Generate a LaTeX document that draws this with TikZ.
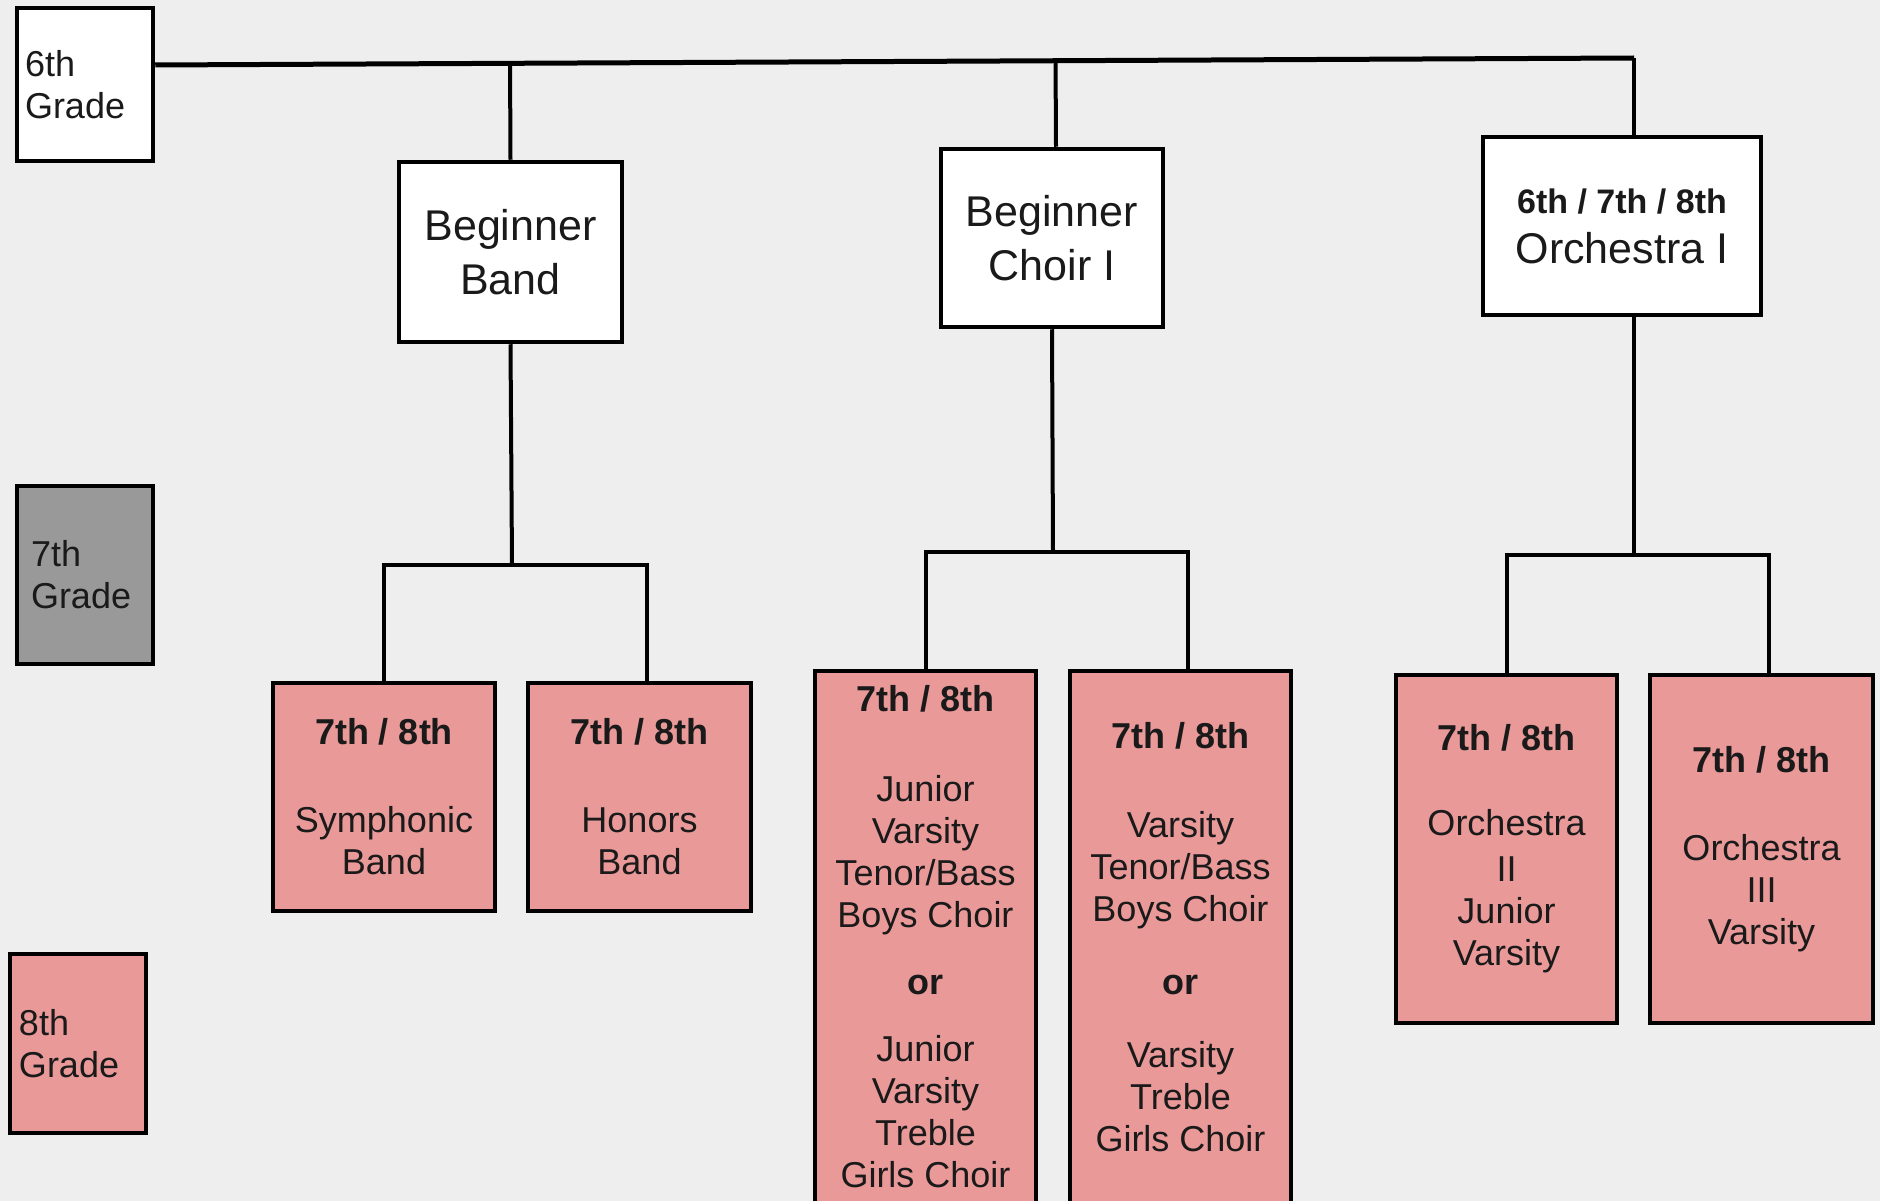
\documentclass[tikz,border=0pt]{standalone}
\usepackage{fontspec}
\setmainfont{Liberation Sans}
\usetikzlibrary{calc}
\definecolor{bgc}{HTML}{EEEEEE}
\definecolor{pinkc}{HTML}{EA9999}
\definecolor{grayc}{HTML}{999999}
\definecolor{txt}{HTML}{1A1A1A}
\begin{document}
\begin{tikzpicture}[x=1pt,y=-1pt,
  box/.style={draw=black, line width=4.5pt, inner sep=0pt, align=center, text=txt,
              font=\fontsize{36}{42}\selectfont},
  wbox/.style={box, fill=white, font=\fontsize{43}{54}\selectfont},
  pbox/.style={box, fill=pinkc},
  gbox/.style={box, align=left, inner ysep=0pt},
  conn/.style={line width=4pt, draw=black},
  topline/.style={line width=5pt, draw=black}]
\useasboundingbox (0,0) rectangle (1880,1201);
\fill[bgc] (0,0) rectangle (1880,1201);

% grade legend
\node[gbox, fill=white, minimum height=153pt, text width=120pt, inner xsep=8pt] (g6) at (85,84.5) {6th\\Grade};
\node[gbox, fill=grayc, minimum height=178pt, text width=108pt, inner xsep=14pt] (g7) at (85,575) {7th\\Grade};
\node[gbox, fill=pinkc, minimum height=179pt, text width=118pt, inner xsep=9pt] (g8) at (78,1043.5) {8th\\Grade};

% level 1
\node[wbox, minimum width=223pt, minimum height=180pt] (bb) at (510.5,252) {Beginner\\Band};
\node[wbox, minimum width=222pt, minimum height=178pt] (bc) at (1052,238) {Beginner\\Choir I};
\node[wbox, minimum width=278pt, minimum height=178pt] (o1) at (1622,226)
  {{\fontsize{34}{54}\selectfont\bfseries 6th / 7th / 8th}\\[-4pt]Orchestra I};

% level 2
\node[pbox, minimum width=222pt, minimum height=228pt] (sb) at (384,797)
  {\textbf{7th / 8th}\\[46pt]Symphonic\\Band};
\node[pbox, minimum width=223pt, minimum height=228pt] (hb) at (639.5,797)
  {\textbf{7th / 8th}\\[46pt]Honors\\Band};
\node[pbox, minimum width=221pt, minimum height=532pt] (jv) at (925.5,937)
  {\textbf{7th / 8th}\\[48pt]Junior\\Varsity\\Tenor/Bass\\Boys Choir\\[25pt]\textbf{or}\\[25pt]Junior\\Varsity\\Treble\\Girls Choir};
\node[pbox, minimum width=221pt, minimum height=532pt] (vv) at (1180.5,937)
  {\textbf{7th / 8th}\\[47pt]Varsity\\Tenor/Bass\\Boys Choir\\[31pt]\textbf{or}\\[31pt]Varsity\\Treble\\Girls Choir};
\node[pbox, minimum width=221pt, minimum height=348pt] (o2) at (1506.5,849)
  {\textbf{7th / 8th}\\[43pt]Orchestra\\[4pt]II\\Junior\\Varsity};
\node[pbox, minimum width=223pt, minimum height=348pt] (o3) at (1761.5,849)
  {\textbf{7th / 8th}\\[46pt]Orchestra\\III\\Varsity};

% attachment points on the boxes
\coordinate (bcn) at ($(bc.north)+(4,0)$);
\coordinate (hbn) at ($(hb.north)+(7,0)$);
\coordinate (vvn) at ($(vv.north)+(7,0)$);
\coordinate (o3n) at ($(o3.north)+(7,0)$);

% top connector
\coordinate (tl) at (g6.east |- 0,65);
\coordinate (tr) at (1634,58);
\draw[topline] (tl) -- (tr);
\draw[conn] (tr) -- (tr |- o1.north);
\draw[conn] ($(tl)!(bb.north)!(tr)$) -- (bb.north);
\draw[conn] ($(tl)!(bcn)!(tr)$) -- (bcn);

% band subtree
\coordinate (bj) at (512,565);
\draw[conn] (bb.south) -- (bj);
\draw[conn] (sb.north) |- (bj) -| (hbn);

% choir subtree
\coordinate (cj) at (1053,552);
\draw[conn] (bc.south) -- (cj);
\draw[conn] (jv.north) |- (cj) -| (vvn);

% orchestra subtree
\coordinate (oj) at (1634,555);
\draw[conn] (tr |- o1.south) -- (oj);
\draw[conn] (o2.north) |- (oj) -| (o3n);
\end{tikzpicture}
\end{document}
